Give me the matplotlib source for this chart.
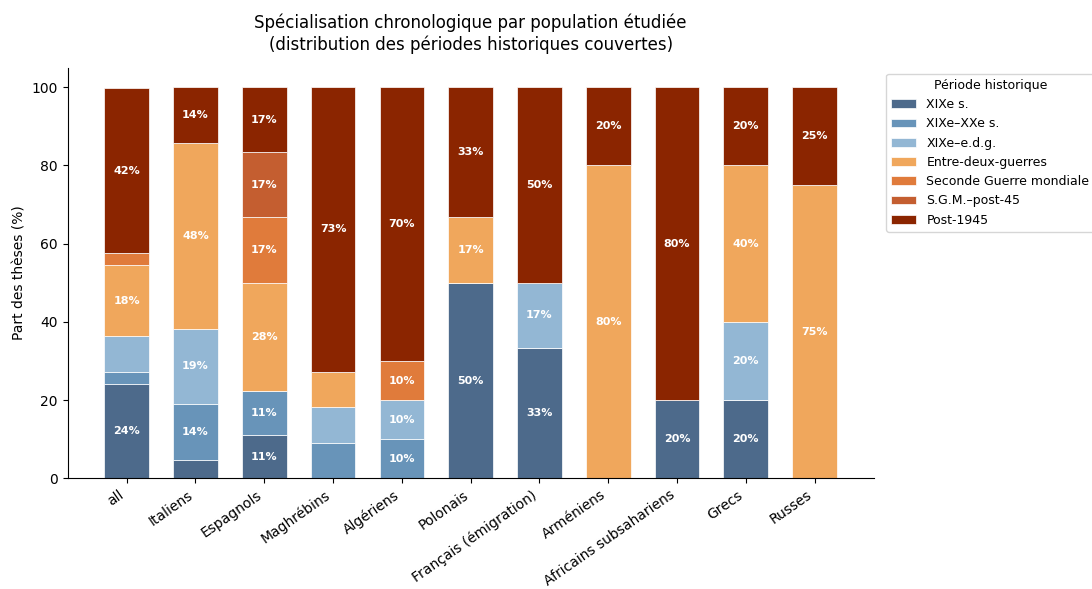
import matplotlib
matplotlib.use("Agg")
import matplotlib.pyplot as plt
import numpy as np

# Populations (x categories)
populations = ["all", "Italiens", "Espagnols", "Maghrébins", "Algériens", "Polonais",
               "Français (émigration)", "Arméniens", "Africains subsahariens", "Grecs", "Russes"]

# Periods (stack order, bottom to top)
periods = ["XIXe s.", "XIXe–XXe s.", "XIXe–e.d.g.", "Entre-deux-guerres",
           "Seconde Guerre mondiale", "S.G.M.–post-45", "Post-1945"]

# Share (%) of theses for each period, one list per period, aligned on populations
xix = [24.2, 4.8, 11.1, 0, 0, 50.0, 33.3, 0, 20.0, 20.0, 0]
xix_xx = [3.0, 14.3, 11.1, 9.1, 10.0, 0, 0, 0, 0, 0, 0]
xix_edg = [9.1, 19.0, 0, 9.1, 10.0, 0, 16.7, 0, 0, 20.0, 0]
entre_guerres = [18.2, 47.6, 27.8, 9.1, 0, 16.7, 0, 80.0, 0, 40.0, 75.0]
sgm = [3.0, 0, 16.7, 0, 10.0, 0, 0, 0, 0, 0, 0]
sgm_post45 = [0, 0, 16.7, 0, 0, 0, 0, 0, 0, 0, 0]
post1945 = [42.4, 14.3, 16.7, 72.7, 70.0, 33.3, 50.0, 20.0, 80.0, 20.0, 25.0]

series = [xix, xix_xx, xix_edg, entre_guerres, sgm, sgm_post45, post1945]
colors = ["#4d6a8b", "#6894b9", "#93b7d4", "#f0a75c", "#e07b3b", "#c45e30", "#8b2500"]

fig, ax = plt.subplots(figsize=(10.92, 5.89), dpi=100)

x = np.arange(len(populations))
bottom = np.zeros(len(populations))
for name, vals, col in zip(periods, series, colors):
    vals = np.array(vals, dtype=float)
    ax.bar(x, vals, width=0.65, bottom=bottom, color=col, label=name,
           edgecolor="white", linewidth=0.5)
    for xi, b, v in zip(x, bottom, vals):
        if v >= 9.5:
            ax.text(xi, b + v / 2, f"{v:.0f}%", ha="center", va="center",
                    color="white", fontsize=8, fontweight="bold")
    bottom += vals

ax.set_ylim(0, 105)
ax.set_xticks(x)
ax.set_xticklabels(populations, rotation=35, ha="right", fontsize=10)
ax.tick_params(axis="y", labelsize=10)
ax.set_ylabel("Part des thèses (%)", fontsize=10)
ax.set_title("Spécialisation chronologique par population étudiée\n"
             "(distribution des périodes historiques couvertes)", fontsize=12, pad=13)
ax.spines["top"].set_visible(False)
ax.spines["right"].set_visible(False)

ax.legend(title="Période historique", loc="upper left", bbox_to_anchor=(1.008, 1.0),
          fontsize=9, title_fontsize=9)

fig.subplots_adjust(left=0.062, right=0.8, top=0.885, bottom=0.188)
plt.savefig("out.png", dpi=100)
